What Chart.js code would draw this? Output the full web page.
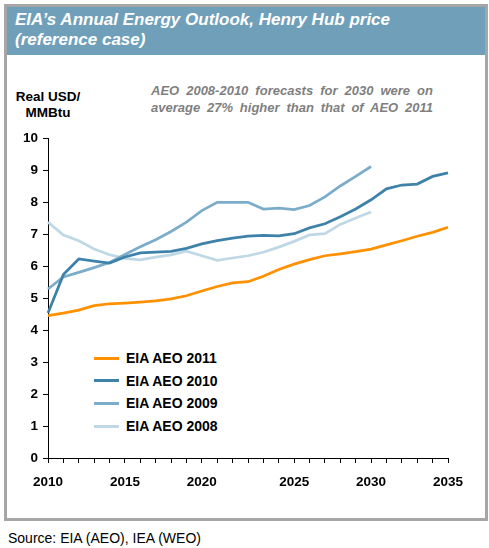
<!DOCTYPE html>
<html>
<head>
<meta charset="utf-8">
<script src="https://cdn.jsdelivr.net/npm/chart.js@4"></script>
<style>
  html, body { margin: 0; padding: 0; background: #fff; }
  body { width: 489px; height: 548px; position: relative; overflow: hidden;
         font-family: "Liberation Sans", Arial, sans-serif; }
  .frame { position: absolute; left: 4px; top: 4px; width: 484px; height: 517px;
           box-sizing: border-box; border: 3px solid #a6a6a6; }
  .title { position: absolute; left: 0; top: 0; right: 0; height: 48px; background: #6f9fb9;
           color: #fff; font-weight: bold; font-style: italic; font-size: 17px; line-height: 20px;
           padding: 3px 0 0 8px; box-sizing: border-box; }
  .ytitle { position: absolute; left: 8px; width: 80px; top: 89px; text-align: center;
            font-weight: bold; font-size: 13.5px; line-height: 16px; color: #000; }
  .note { position: absolute; left: 151px; width: 282px; top: 82px; color: #7f7f7f;
          font-weight: bold; font-style: italic; font-size: 13px; line-height: 17px;
          text-align: justify; text-align-last: justify; }
  .legend { position: absolute; left: 94px; top: 347px; }
  .legend div { height: 22.6px; display: flex; align-items: center; font-weight: bold; font-size: 14px; color: #000; }
  .legend span { display: inline-block; width: 25px; height: 3px; margin-right: 7px; }
  .source { position: absolute; left: 8px; top: 530px; font-size: 14px; color: #000; }
  canvas { position: absolute; left: 0; top: 0; }
</style>
</head>
<body>
<div class="frame">
  <div class="title">EIA’s Annual Energy Outlook, Henry Hub price<br>(reference case)</div>
</div>
<div class="ytitle">Real USD/<br>MMBtu</div>
<div class="note">AEO 2008-2010 forecasts for 2030 were on average 27% higher than that of AEO 2011</div>
<div class="legend" id="legend"></div>
<div class="source">Source: EIA (AEO), IEA (WEO)</div>
<canvas id="chart" width="489" height="548"></canvas>

<script>
'use strict';

/* Données (27 positions sur l'axe des x) */
const xLabels = ['2010', '', '', '', '', '2015', '', '', '', '', '2020', '', '', '', '', '',
                 '2025', '', '', '', '', '2030', '', '', '', '', '2035'];

const seriesNames = ['EIA AEO 2011', 'EIA AEO 2010', 'EIA AEO 2009', 'EIA AEO 2008'];
const seriesColors = ['#ff9000', '#3e82a9', '#7badca', '#bfd8e6'];

const aeo2011 = [4.45, 4.53, 4.62, 4.76, 4.82, 4.84, 4.87, 4.91, 4.97, 5.07, 5.22, 5.36, 5.47, 5.51,
                 5.68, 5.89, 6.06, 6.20, 6.32, 6.38, 6.45, 6.53, 6.66, 6.79, 6.93, 7.05, 7.21];
const aeo2010 = [4.53, 5.73, 6.22, 6.15, 6.09, 6.28, 6.41, 6.43, 6.46, 6.55, 6.69, 6.79, 6.87, 6.93,
                 6.96, 6.94, 7.01, 7.19, 7.32, 7.54, 7.78, 8.07, 8.41, 8.53, 8.56, 8.80, 8.91];
const aeo2009 = [5.28, 5.66, 5.80, 5.95, 6.11, 6.36, 6.60, 6.82, 7.08, 7.37, 7.73, 7.99, 7.99, 7.99,
                 7.78, 7.81, 7.76, 7.89, 8.16, 8.50, 8.80, 9.11];
const aeo2008 = [7.37, 6.97, 6.79, 6.53, 6.35, 6.24, 6.19, 6.28, 6.35, 6.46, 6.32, 6.18, 6.25, 6.32,
                 6.43, 6.59, 6.77, 6.97, 7.01, 7.30, 7.50, 7.69];

const seriesData = [aeo2011, aeo2010, aeo2009, aeo2008];

const tickFont = { family: '"Liberation Sans", Arial, sans-serif', size: 13.5, weight: 'bold' };

/* Légende HTML */
const legendEl = document.getElementById('legend');
seriesNames.forEach((name, i) => {
    const row = document.createElement('div');
    const sw = document.createElement('span');
    sw.style.background = seriesColors[i];
    row.appendChild(sw);
    row.appendChild(document.createTextNode(name));
    legendEl.appendChild(row);
});

new Chart(document.getElementById('chart'), {
    type: 'line',
    data: {
        labels: xLabels,
        datasets: seriesNames.map((name, i) => ({
            label: name,
            data: seriesData[i],
            borderColor: seriesColors[i],
            backgroundColor: seriesColors[i],
            borderWidth: 2.75,
            pointRadius: 0,
            tension: 0,
            fill: false
        }))
    },
    options: {
        responsive: false,
        animation: false,
        layout: { padding: { left: 0, top: 138, right: 41, bottom: 0 } },
        plugins: {
            legend: { display: false },
            tooltip: { enabled: false }
        },
        scales: {
            x: {
                type: 'category',
                offset: false,
                grid: { drawOnChartArea: false, drawTicks: true, tickLength: 5, color: '#000' },
                border: { display: true, color: '#000', width: 1 },
                ticks: { autoSkip: false, maxRotation: 0, padding: 11, color: '#000', font: tickFont },
                afterFit: s => { s.height = 90; }
            },
            y: {
                min: 0,
                max: 10,
                grid: { drawOnChartArea: false, drawTicks: true, tickLength: 5, color: '#000' },
                border: { display: true, color: '#000', width: 1 },
                ticks: { stepSize: 1, padding: 5, color: '#000', font: tickFont },
                afterFit: s => { s.width = 48; }
            }
        }
    }
});
</script>
</body>
</html>
